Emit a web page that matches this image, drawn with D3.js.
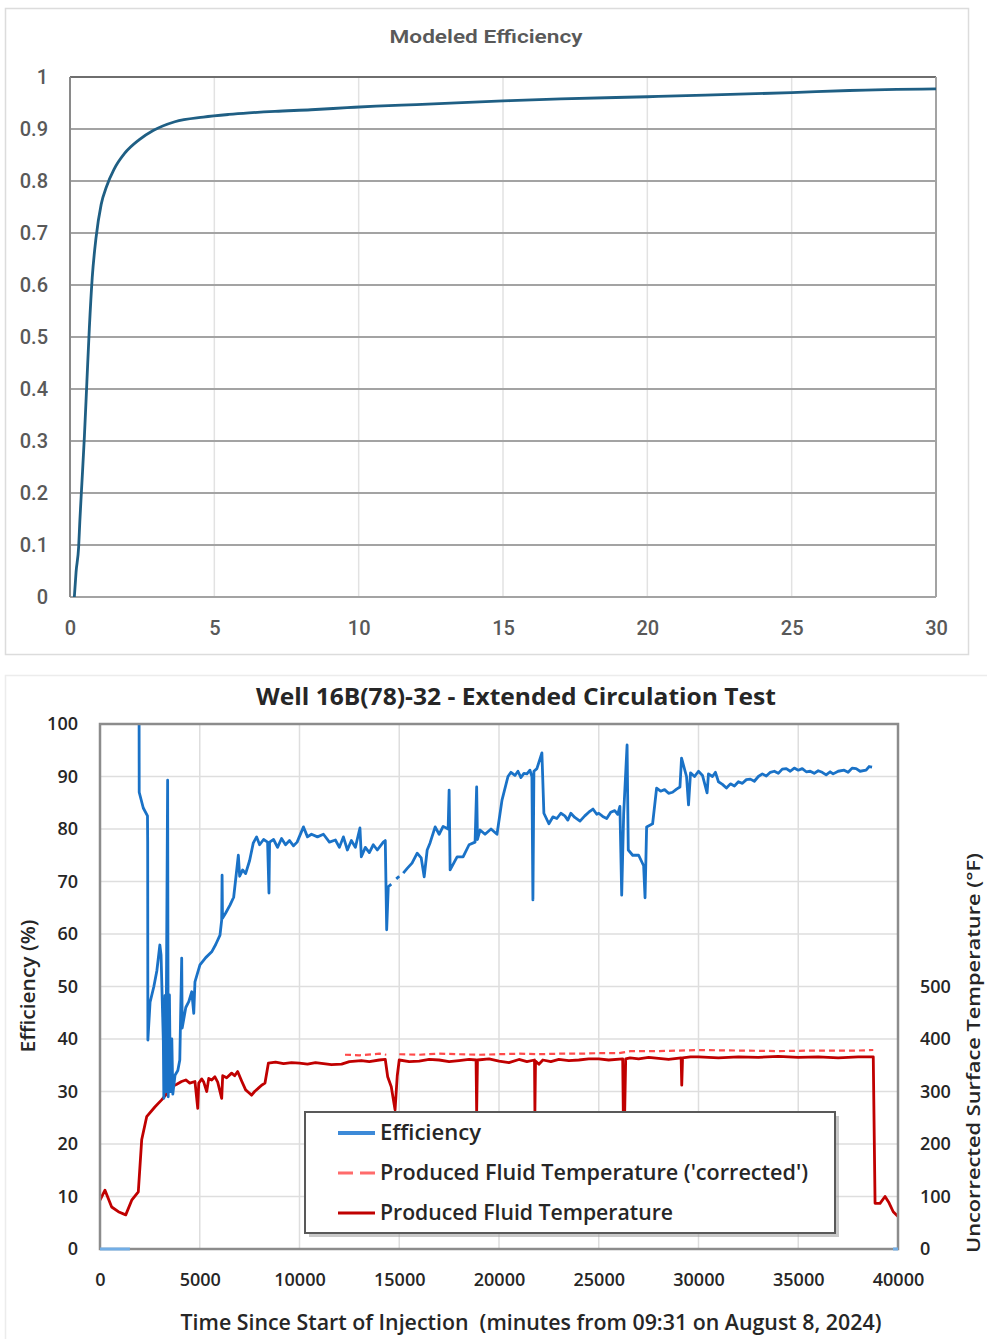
<!DOCTYPE html>
<html>
<head>
<meta charset="utf-8">
<script src="https://cdn.jsdelivr.net/npm/d3@7"></script>
<style>
  body { margin: 0; background: #fff; }
  svg { display: block; }
</style>
</head>
<body>
<div class="canvas"></div>
<script>
// ---- top chart data : modeled efficiency, [time, efficiency] ----
const modelCurve = [[0.15, 0], [0.21, 0.048], [0.3, 0.097], [0.34, 0.145], [0.4, 0.207], [0.5, 0.31], [0.585, 0.414],
  [0.67, 0.517], [0.77, 0.614], [0.9, 0.69], [1.08, 0.755], [1.27, 0.79], [1.52, 0.822], [1.89, 0.853], [2.39, 0.879],
  [2.88, 0.897], [3.63, 0.914], [4.62, 0.923], [5.5, 0.928], [6.2, 0.931], [7.1, 0.934], [8.35, 0.937], [9.6, 0.941],
  [10.6, 0.944], [12, 0.947], [15, 0.954], [17, 0.958], [20, 0.962], [22, 0.965], [25, 0.97], [27, 0.974], [30, 0.977]]
const topXTicks = [0, 5, 10, 15, 20, 25, 30]
const topYTicks = [0, 0.1, 0.2, 0.3, 0.4, 0.5, 0.6, 0.7, 0.8, 0.9, 1]

// ---- bottom chart data : circulation test, [minutes, value]; null = gap ----
const effZero = [[0, 0], [1500, 0], [1501, null], [39750, 0], [40000, 0]]
const efficiency = [
  [1960, 100], [1965, 87], [2170, 84], [2380, 82.5], [2390, 77.6], [2400, 39.8], [2510, 47], [2700, 50], [2850, 53],
  [3000, 57.9], [3060, 56], [3175, 39.5], [3200, 28.7], [3260, 48.3], [3300, 30], [3390, 89.3], [3420, 29], [3480, 48.4],
  [3530, 30], [3600, 40], [3650, 29.5], [3760, 33.1], [3900, 34], [4000, 36], [4095, 55.4], [4120, 42.1], [4300, 46],
  [4450, 47.1], [4600, 49], [4700, 44.9], [4760, 50.9], [5010, 54.1], [5300, 55.5], [5600, 56.6], [5800, 58], [6015, 59.8],
  [6100, 62.7], [6120, 71.2], [6140, 63], [6300, 64], [6516, 65.5], [6700, 67], [6935, 75], [7000, 71], [7150, 72.2],
  [7300, 71.5], [7500, 74], [7680, 77.3], [7850, 78.5], [8000, 77], [8200, 78], [8400, 77.5], [8470, 67.8], [8500, 77.5],
  [8700, 78], [8900, 76.5], [9100, 78.2], [9300, 77], [9500, 77.8], [9700, 76.8], [9880, 77.5], [10200, 80.4], [10400, 78.5],
  [10600, 79], [10900, 78.5], [11200, 79], [11500, 77.5], [11800, 77.9], [12000, 76.5], [12200, 78.5], [12400, 76],
  [12600, 77.8], [12800, 76.5], [13030, 80.2], [13100, 74.7], [13300, 76.5], [13500, 75.5], [13700, 77], [13900, 76],
  [14200, 77.5], [14300, 77.8], [14370, 60.8], [14450, 69], [14600, 69.5], [14700, null],
  [14850, 70.5], [15000, 71], [15100, null],
  [15200, 71.6], [15400, 72.5], [15640, 73.5], [15900, 75.4], [16100, 74.5], [16250, 70.9], [16400, 76], [16540, 77.3],
  [16800, 80.4], [17000, 79], [17200, 80.5], [17450, 80], [17500, 87.4], [17550, 72.2], [17900, 74.7], [18200, 74.7],
  [18500, 77], [18800, 77.5], [18880, 88], [18920, 78], [19050, 79.8], [19300, 79], [19600, 80], [19900, 79], [20150, 85.5],
  [20450, 90], [20600, 90.8], [20800, 90.2], [20950, 91], [21100, 89.8], [21250, 90.6], [21400, 90.5], [21550, 91.2],
  [21650, 90], [21700, 66.5], [21750, 91], [21900, 91.5], [22150, 94.5], [22250, 83],
  [22500, 81], [22700, 82.3], [22900, 82], [23100, 83], [23300, 82.5], [23450, 81.7], [23600, 83], [23800, 82.2],
  [24060, 81.5], [24300, 82.5], [24500, 83.2], [24710, 83.8], [24900, 82.8], [25000, 83], [25200, 82.4], [25400, 82],
  [25600, 83.2], [25800, 83.5], [25950, 82.8], [26060, 84.3], [26150, 67.4], [26250, 83], [26420, 96], [26480, 76],
  [26700, 75], [27000, 75], [27250, 73], [27320, 66.9], [27400, 80.4], [27700, 81], [27900, 87.8], [28100, 87.2],
  [28300, 87.5], [28500, 86.8], [28700, 87], [28900, 87.6], [29070, 88], [29150, 93.5], [29400, 90], [29500, 84.6],
  [29600, 90.7], [29800, 90], [30000, 91], [30200, 90.2], [30430, 86.9], [30500, 90.5], [30700, 90], [30850, 90.8],
  [31000, 89], [31200, 88.5], [31400, 87.8], [31600, 88.6], [31800, 88.2], [32000, 89], [32200, 88.7], [32400, 89.4],
  [32600, 89.5], [32800, 89.1], [33000, 90], [33200, 90.5], [33400, 90.1], [33600, 90.8], [33800, 91], [34000, 90.6],
  [34200, 91.4], [34400, 91.5], [34600, 91], [34800, 91.6], [35000, 91.2], [35200, 91.5], [35400, 90.9], [35600, 91],
  [35800, 90.6], [36000, 91.1], [36200, 90.8], [36400, 90.3], [36600, 90.9], [36750, 90.5], [37000, 91], [37300, 91.2],
  [37500, 90.8], [37700, 91.6], [37900, 91.5], [38100, 91], [38400, 91.2], [38550, 91.9], [38700, 91.8]]

// produced fluid temperature (°F)
const fluidTemp = [
  [0, 93], [250, 112], [585, 80], [920, 71], [1290, 65], [1590, 93], [1920, 109], [2090, 208], [2340, 252], [2760, 271],
  [3090, 284], [3350, 296], [3590, 309], [3850, 314], [4090, 319], [4300, 322], [4500, 316], [4760, 319], [4900, 268],
  [4950, 316], [5100, 324], [5200, 318], [5350, 300], [5450, 325], [5600, 322], [5760, 328], [5900, 318], [6100, 287],
  [6150, 330], [6350, 326], [6600, 335], [6750, 330], [6900, 338], [7100, 320], [7300, 303], [7450, 298], [7600, 293],
  [7750, 300], [7900, 305], [8100, 312], [8270, 316], [8440, 354], [8800, 356], [9200, 353], [9600, 355], [10000, 354],
  [10400, 352], [10800, 355], [11200, 353], [11600, 351], [12110, 352], [12500, 357], [13100, 359], [13500, 357],
  [14000, 360], [14300, 361], [14420, 328], [14600, 309], [14790, 265], [14900, 330], [15000, 360], [15500, 357],
  [16000, 358], [16500, 361], [17000, 360], [17500, 357], [18000, 359], [18500, 361], [18850, 360], [18880, 261],
  [18920, 360], [19500, 362], [20000, 358], [20500, 355], [21000, 361], [21400, 357], [21780, 360], [21800, 261],
  [21830, 358], [22000, 352], [22200, 360], [22600, 357], [23000, 361], [23500, 359], [24000, 360], [24500, 362],
  [25000, 362], [25500, 360], [26200, 362], [26230, 261], [26300, 261], [26350, 362], [26570, 364], [27000, 362],
  [27500, 365], [28000, 363], [28500, 361], [29130, 364], [29160, 312], [29200, 364], [29600, 366], [30000, 366],
  [31000, 364], [32000, 366], [33000, 365], [34000, 367], [35000, 365], [36000, 366], [37000, 364], [38000, 366],
  [38760, 366], [38850, 87], [39100, 87], [39350, 100], [39550, 88], [39760, 71], [40000, 62]]

// produced fluid temperature, 'corrected' (°F)
const fluidTempCorrected = [
  [12280, 370], [13000, 369], [14000, 372], [14350, 370], [14400, null], [15000, 371], [16000, 370], [17000, 372],
  [18000, 371], [19000, 370], [20000, 371], [21000, 372], [22000, 371], [23000, 372], [24000, 372], [25000, 373],
  [26000, 373], [26600, 377], [28000, 377], [30000, 379], [32000, 378], [34000, 377], [36000, 378], [38000, 378],
  [38760, 379]]

const botXTicks = [0, 5000, 10000, 15000, 20000, 25000, 30000, 35000, 40000]
const botYTicks = [0, 10, 20, 30, 40, 50, 60, 70, 80, 90, 100]
const botY2Ticks = [0, 100, 200, 300, 400, 500]
const legendLabels = ['Efficiency', "Produced Fluid Temperature ('corrected')", 'Produced Fluid Temperature']

document.addEventListener('DOMContentLoaded', function() {
  const dims = {width: 987, height: 1339}

  const svg = d3.select('.canvas').append('svg')
    .attr('width', dims.width)
    .attr('height', dims.height)

  // ======================= top chart =======================
  const topBox = {left: 70, right: 936, top: 77, bottom: 597}
  const topFont = 'Roboto, "Noto Sans", sans-serif'
  const topGrey = '#595959'

  svg.append('rect')
    .attr('x', 5.5).attr('y', 8.5).attr('width', 963).attr('height', 646)
    .attr('fill', '#fff').attr('stroke', '#dcdcdc').attr('stroke-width', 1.5)

  const xTop = d3.scaleLinear().domain([0, 30]).range([topBox.left, topBox.right])
  const yTop = d3.scaleLinear().domain([0, 1]).range([topBox.bottom, topBox.top])

  const topG = svg.append('g')

  // light vertical grid
  topG.selectAll('.vgrid').data(topXTicks.slice(1, -1)).enter()
    .append('line')
    .attr('x1', d => xTop(d)).attr('x2', d => xTop(d))
    .attr('y1', topBox.top).attr('y2', topBox.bottom)
    .attr('stroke', '#e2e2e2').attr('stroke-width', 1.5)

  // darker horizontal grid
  topG.selectAll('.hgrid').data(topYTicks).enter()
    .append('line')
    .attr('x1', topBox.left).attr('x2', topBox.right)
    .attr('y1', d => yTop(d)).attr('y2', d => yTop(d))
    .attr('stroke', d => d === 1 ? '#6e6e6e' : '#a3a3a3').attr('stroke-width', 2)

  // frame sides
  topG.append('line').attr('x1', topBox.left).attr('x2', topBox.left)
    .attr('y1', topBox.top).attr('y2', topBox.bottom).attr('stroke', '#8a8a8a').attr('stroke-width', 2)
  topG.append('line').attr('x1', topBox.right).attr('x2', topBox.right)
    .attr('y1', topBox.top).attr('y2', topBox.bottom).attr('stroke', '#a3a3a3').attr('stroke-width', 2)

  topG.append('path')
    .datum(modelCurve)
    .attr('fill', 'none')
    .attr('stroke', '#1f5f84')
    .attr('stroke-width', 2.8)
    .attr('stroke-linejoin', 'round')
    .attr('d', d3.line().x(d => xTop(d[0])).y(d => yTop(d[1])).curve(d3.curveMonotoneX))

  // axes
  const yAxisTop = topG.append('g')
    .attr('transform', `translate(${topBox.left},0)`)
    .call(d3.axisLeft(yTop).tickValues(topYTicks).tickSize(0).tickPadding(22).tickFormat(d => String(d)))
  const xAxisTop = topG.append('g')
    .attr('transform', `translate(0,${topBox.bottom})`)
    .call(d3.axisBottom(xTop).tickValues(topXTicks).tickSize(0).tickPadding(24))
  ;[yAxisTop, xAxisTop].forEach(ax => {
    ax.select('.domain').remove()
    ax.selectAll('text')
      .attr('fill', topGrey)
      .style('font-family', topFont)
      .style('font-size', '20px')
      .style('font-weight', 500)
  })

  svg.append('text')
    .attr('x', 486).attr('y', 43)
    .attr('text-anchor', 'middle')
    .attr('fill', topGrey)
    .attr('textLength', 193).attr('lengthAdjust', 'spacingAndGlyphs')
    .style('font-family', topFont).style('font-size', '19px').style('font-weight', 600)
    .text('Modeled Efficiency')

  // ======================= bottom chart =======================
  const box = {left: 100, right: 898, top: 724, bottom: 1249}
  const font = '"Open Sans", "Noto Sans", sans-serif'
  const ink = '#262626'

  svg.append('rect')
    .attr('x', 5.5).attr('y', 675.5).attr('width', 1000).attr('height', 680)
    .attr('fill', 'none').attr('stroke', '#ececec').attr('stroke-width', 1.5)

  const x = d3.scaleLinear().domain([0, 40000]).range([box.left, box.right])
  const y = d3.scaleLinear().domain([0, 100]).range([box.bottom, box.top])
  const y2 = d3.scaleLinear().domain([0, 1000]).range([box.bottom, box.top])

  const graph = svg.append('g')

  graph.selectAll('.vgrid').data(botXTicks.slice(1, -1)).enter()
    .append('line')
    .attr('x1', d => x(d)).attr('x2', d => x(d))
    .attr('y1', box.top).attr('y2', box.bottom)
    .attr('stroke', '#dedede').attr('stroke-width', 1.5)
  graph.selectAll('.hgrid').data(botYTicks.slice(1, -1)).enter()
    .append('line')
    .attr('x1', box.left).attr('x2', box.right)
    .attr('y1', d => y(d)).attr('y2', d => y(d))
    .attr('stroke', '#dedede').attr('stroke-width', 1.5)

  svg.append('clipPath').attr('id', 'plotclip')
    .append('rect').attr('x', box.left).attr('y', box.top - 2)
    .attr('width', box.right - box.left).attr('height', box.bottom - box.top + 4)

  const lines = graph.append('g').attr('clip-path', 'url(#plotclip)')

  const tLine = d3.line().defined(d => d[1] !== null).x(d => x(d[0])).y(d => y2(d[1]))
  const eLine = d3.line().defined(d => d[1] !== null).x(d => x(d[0])).y(d => y(d[1]))

  lines.append('path').datum(fluidTempCorrected)
    .attr('fill', 'none').attr('stroke', '#ff4a4a').attr('stroke-width', 2.2)
    .attr('stroke-dasharray', '6,4')
    .attr('d', tLine)

  lines.append('path').datum(fluidTemp)
    .attr('fill', 'none').attr('stroke', '#c00000').attr('stroke-width', 2.8)
    .attr('stroke-linejoin', 'round')
    .attr('d', tLine)

  lines.append('path').datum(efficiency)
    .attr('fill', 'none').attr('stroke', '#1a72c7').attr('stroke-width', 2.8)
    .attr('stroke-linejoin', 'round')
    .attr('d', eLine)

  // plot frame
  graph.append('rect')
    .attr('x', box.left).attr('y', box.top)
    .attr('width', box.right - box.left).attr('height', box.bottom - box.top)
    .attr('fill', 'none').attr('stroke', '#8c8c8c').attr('stroke-width', 2.5)

  // zero stretches of the efficiency record sit on the axis
  graph.append('path').datum(effZero)
    .attr('fill', 'none').attr('stroke', '#72aee6').attr('stroke-width', 3)
    .attr('d', eLine)

  // axes
  const yAxis = graph.append('g').attr('transform', `translate(${box.left},0)`)
    .call(d3.axisLeft(y).tickValues(botYTicks).tickSize(0).tickPadding(22))
  const y2Axis = graph.append('g').attr('transform', `translate(${box.right},0)`)
    .call(d3.axisRight(y2).tickValues(botY2Ticks).tickSize(0).tickPadding(22))
  const xAxis = graph.append('g').attr('transform', `translate(0,${box.bottom})`)
    .call(d3.axisBottom(x).tickValues(botXTicks).tickSize(0).tickPadding(24).tickFormat(d3.format('d')))
  ;[yAxis, y2Axis, xAxis].forEach(ax => {
    ax.select('.domain').remove()
    ax.selectAll('text')
      .attr('fill', ink)
      .style('font-family', font)
      .style('font-size', '18px')
      .style('font-weight', 600)
  })

  // titles
  svg.append('text')
    .attr('x', 516).attr('y', 705)
    .attr('text-anchor', 'middle').attr('fill', ink)
    .attr('textLength', 520).attr('lengthAdjust', 'spacingAndGlyphs')
    .style('font-family', font).style('font-size', '24px').style('font-weight', 700)
    .text('Well 16B(78)-32 - Extended Circulation Test')

  svg.append('text')
    .attr('x', 531).attr('y', 1330)
    .attr('text-anchor', 'middle').attr('fill', ink)
    .attr('textLength', 701).attr('lengthAdjust', 'spacingAndGlyphs')
    .style('font-family', font).style('font-size', '21px').style('font-weight', 600)
    .style('white-space', 'pre')
    .text('Time Since Start of Injection  (minutes from 09:31 on August 8, 2024)')

  svg.append('text')
    .attr('transform', 'translate(35,986) rotate(-90)')
    .attr('text-anchor', 'middle').attr('fill', ink)
    .attr('textLength', 133).attr('lengthAdjust', 'spacingAndGlyphs')
    .style('font-family', font).style('font-size', '19px').style('font-weight', 600)
    .text('Efficiency (%)')

  svg.append('text')
    .attr('transform', 'translate(980,1053) rotate(-90)')
    .attr('text-anchor', 'middle').attr('fill', ink)
    .attr('textLength', 400).attr('lengthAdjust', 'spacingAndGlyphs')
    .style('font-family', font).style('font-size', '18px').style('font-weight', 600)
    .text('Uncorrected Surface Temperature (°F)')

  // legend
  const leg = svg.append('g').attr('transform', 'translate(305,1112)')
  leg.append('rect').attr('x', 4).attr('y', 4).attr('width', 530).attr('height', 121)
    .attr('fill', '#9a9a9a').attr('opacity', 0.55)
  leg.append('rect').attr('x', 0).attr('y', 0).attr('width', 530).attr('height', 121)
    .attr('fill', '#fff').attr('stroke', '#595959').attr('stroke-width', 2)

  const legendStyles = [
    {stroke: '#3d8ad8', dash: null, width: 4, len: 101},
    {stroke: '#ff6b6b', dash: '15,7', width: 3, len: 428},
    {stroke: '#c00000', dash: null, width: 3, len: 293}
  ]
  const rows = leg.selectAll('.row').data(legendLabels).enter()
    .append('g').attr('transform', (d, i) => `translate(0,${21 + i * 40})`)
  rows.append('line')
    .attr('x1', 33).attr('x2', 70).attr('y1', 0).attr('y2', 0)
    .attr('stroke', (d, i) => legendStyles[i].stroke)
    .attr('stroke-width', (d, i) => legendStyles[i].width)
    .attr('stroke-dasharray', (d, i) => legendStyles[i].dash)
  rows.append('text')
    .attr('x', 75).attr('y', 7)
    .attr('fill', ink)
    .attr('textLength', (d, i) => legendStyles[i].len).attr('lengthAdjust', 'spacingAndGlyphs')
    .style('font-family', font).style('font-size', '21px').style('font-weight', 600)
    .text(d => d)
})
</script>
</body>
</html>
